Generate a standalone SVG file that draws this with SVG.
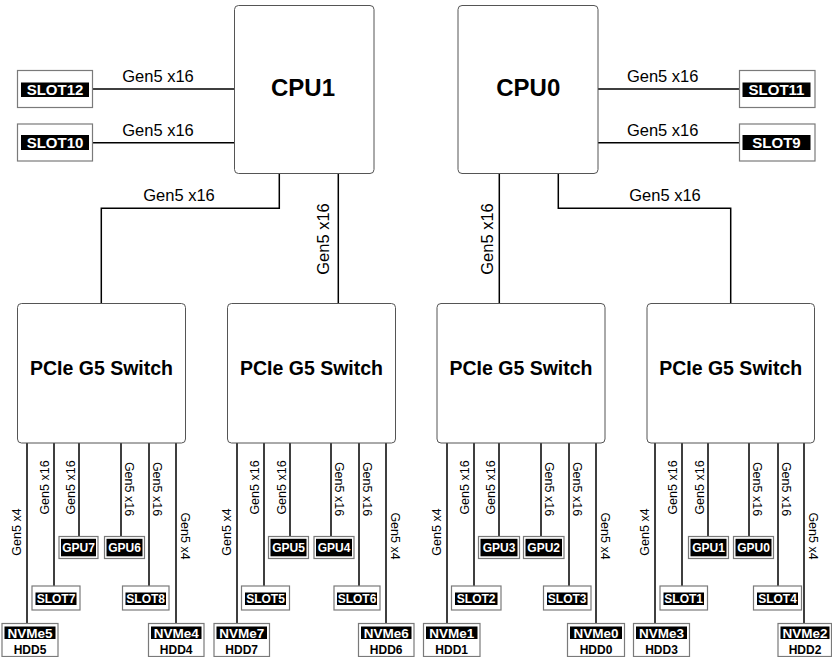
<svg xmlns="http://www.w3.org/2000/svg" width="832" height="657" viewBox="0 0 832 657">
<style>
  text { font-family: "Liberation Sans", Arial, sans-serif; fill: #000; }
  .big { fill: #fff; stroke: #555; stroke-width: 1; }
  .box { fill: #fff; stroke: #7a7a7a; stroke-width: 1.2; }
  .blk { fill: #000; }
  .wl { fill: #fff; font-weight: bold; text-anchor: middle; }
  .cpu { font-size: 24px; font-weight: bold; text-anchor: middle; }
  .sw { font-size: 19.5px; font-weight: bold; text-anchor: middle; }
  .tl { font-size: 16.5px; text-anchor: middle; }
  .vl { font-size: 12.5px; text-anchor: middle; dominant-baseline: central; }
  .s15 { font-size: 15px; }
  .s12 { font-size: 12px; }
  .nv { font-size: 13.5px; }
  .hd { font-size: 12px; font-weight: bold; text-anchor: middle; }
  .ln { fill: none; stroke: #000; stroke-width: 1.5; }
</style>

<g id="connectors">
  <path class="ln" d="M92.5 89 H234.5 M92.5 142.7 H234.5 M598 89 H739.5 M598 142.7 H739.5"/>
  <path class="ln" d="M279.3 173.5 V208.3 H101.3 V303.5 M338.3 173.5 V303.5 M499.3 173.5 V303.5 M558.3 173.5 V208.3 H730.7 V303.5"/>
  <path class="ln" d="M27 443 V623.5 M54 443 V586 M79 443 V536.5 M121 443 V536.5 M149 443 V586 M176 443 V623.5"/>
  <path class="ln" d="M237 443 V623.5 M264 443 V586 M290 443 V536.5 M331 443 V536.5 M359 443 V586 M386 443 V623.5"/>
  <path class="ln" d="M447 443 V623.5 M474 443 V586 M499 443 V536.5 M541 443 V536.5 M569 443 V586 M596 443 V623.5"/>
  <path class="ln" d="M655 443 V623.5 M682 443 V586 M708 443 V536.5 M749 443 V536.5 M778 443 V586 M804 443 V623.5"/>
  <text class="tl" x="158" y="81.5">Gen5 x16</text>
  <text class="tl" x="158" y="135.5">Gen5 x16</text>
  <text class="tl" x="662.7" y="81.5">Gen5 x16</text>
  <text class="tl" x="662.7" y="135.5">Gen5 x16</text>
  <text class="tl" x="179" y="201">Gen5 x16</text>
  <text class="tl" x="665" y="201">Gen5 x16</text>
  <text class="tl" transform="translate(323 239) rotate(-90)" dominant-baseline="central">Gen5 x16</text>
  <text class="tl" transform="translate(486.7 239) rotate(-90)" dominant-baseline="central">Gen5 x16</text>
  <!-- switch 1 -->
  <text class="vl" transform="translate(17 532) rotate(-90)">Gen5 x4</text>
  <text class="vl" transform="translate(44.5 487.5) rotate(-90)">Gen5 x16</text>
  <text class="vl" transform="translate(70.5 487.5) rotate(-90)">Gen5 x16</text>
  <text class="vl" transform="translate(128.5 489) rotate(90)">Gen5 x16</text>
  <text class="vl" transform="translate(156.5 489) rotate(90)">Gen5 x16</text>
  <text class="vl" transform="translate(184.5 536) rotate(90)">Gen5 x4</text>
  <!-- switch 2 -->
  <text class="vl" transform="translate(227 532) rotate(-90)">Gen5 x4</text>
  <text class="vl" transform="translate(254.5 487.5) rotate(-90)">Gen5 x16</text>
  <text class="vl" transform="translate(281.5 487.5) rotate(-90)">Gen5 x16</text>
  <text class="vl" transform="translate(338.5 489) rotate(90)">Gen5 x16</text>
  <text class="vl" transform="translate(366.5 489) rotate(90)">Gen5 x16</text>
  <text class="vl" transform="translate(394.5 536) rotate(90)">Gen5 x4</text>
  <!-- switch 3 -->
  <text class="vl" transform="translate(437 532) rotate(-90)">Gen5 x4</text>
  <text class="vl" transform="translate(464.5 487.5) rotate(-90)">Gen5 x16</text>
  <text class="vl" transform="translate(490.5 487.5) rotate(-90)">Gen5 x16</text>
  <text class="vl" transform="translate(548.5 489) rotate(90)">Gen5 x16</text>
  <text class="vl" transform="translate(576.5 489) rotate(90)">Gen5 x16</text>
  <text class="vl" transform="translate(604.5 536) rotate(90)">Gen5 x4</text>
  <!-- switch 4 -->
  <text class="vl" transform="translate(645 532) rotate(-90)">Gen5 x4</text>
  <text class="vl" transform="translate(672.5 487.5) rotate(-90)">Gen5 x16</text>
  <text class="vl" transform="translate(699.5 487.5) rotate(-90)">Gen5 x16</text>
  <text class="vl" transform="translate(756.5 489) rotate(90)">Gen5 x16</text>
  <text class="vl" transform="translate(785.5 489) rotate(90)">Gen5 x16</text>
  <text class="vl" transform="translate(812.5 536) rotate(90)">Gen5 x4</text>
</g>

<g id="cpu1"><rect class="big" x="234.5" y="5.5" width="139.5" height="168" rx="4"/><text class="cpu" x="303" y="96">CPU1</text></g>
<g id="cpu0"><rect class="big" x="458" y="5.5" width="140" height="168" rx="4"/><text class="cpu" x="528.3" y="96">CPU0</text></g>

<g id="slot12"><rect class="box" x="17.5" y="70.5" width="75" height="37"/><rect class="blk" x="21" y="82.5" width="68" height="14.5"/><text class="wl s15" x="55" y="95">SLOT12</text></g>
<g id="slot10"><rect class="box" x="17.5" y="124" width="75" height="37"/><rect class="blk" x="21" y="135" width="68" height="15"/><text class="wl s15" x="55" y="148">SLOT10</text></g>
<g id="slot11"><rect class="box" x="739.5" y="70.5" width="75.5" height="37"/><rect class="blk" x="742.5" y="82.5" width="68" height="14.5"/><text class="wl s15" x="776.5" y="95">SLOT11</text></g>
<g id="slot9"><rect class="box" x="739.5" y="124" width="75.5" height="37"/><rect class="blk" x="742.5" y="135" width="68" height="15"/><text class="wl s15" x="776.5" y="148">SLOT9</text></g>

<g id="switch1"><rect class="big" x="17.5" y="303.5" width="168" height="139.5" rx="4"/><text class="sw" x="101.5" y="375">PCIe G5 Switch</text></g>
<g id="switch2"><rect class="big" x="227.5" y="303.5" width="168" height="139.5" rx="4"/><text class="sw" x="311.5" y="375">PCIe G5 Switch</text></g>
<g id="switch3"><rect class="big" x="437" y="303.5" width="168" height="139.5" rx="4"/><text class="sw" x="521" y="375">PCIe G5 Switch</text></g>
<g id="switch4"><rect class="big" x="647" y="303.5" width="167.5" height="139.5" rx="4"/><text class="sw" x="730.7" y="375">PCIe G5 Switch</text></g>

<!-- switch 1 devices -->
<g id="nvme5"><rect class="box" x="2" y="623.5" width="56" height="33"/><rect class="blk" x="4.5" y="626.5" width="51" height="12.5"/><text class="wl nv" x="30" y="637.8">NVMe5</text><text class="hd" x="30" y="653.5">HDD5</text></g>
<g id="slot7"><rect class="box" x="32" y="586" width="48" height="24"/><rect class="blk" x="35.5" y="592.5" width="41" height="12.5"/><text class="wl s12" x="56" y="603.3">SLOT7</text></g>
<g id="gpu7"><rect class="box" x="59" y="536.5" width="39" height="22"/><rect class="blk" x="61" y="538.8" width="35" height="17.5"/><text class="wl s12" x="78.5" y="552">GPU7</text></g>
<g id="gpu6"><rect class="box" x="104.5" y="536.5" width="40" height="22"/><rect class="blk" x="106.5" y="538.8" width="36" height="17.5"/><text class="wl s12" x="124.5" y="552">GPU6</text></g>
<g id="slot8"><rect class="box" x="122.5" y="586" width="46.5" height="24"/><rect class="blk" x="125.5" y="592.5" width="40.5" height="12.5"/><text class="wl s12" x="145.7" y="603.3">SLOT8</text></g>
<g id="nvme4"><rect class="box" x="148.5" y="623.5" width="55.5" height="33"/><rect class="blk" x="151" y="626.5" width="50.5" height="12.5"/><text class="wl nv" x="176.2" y="637.8">NVMe4</text><text class="hd" x="176.2" y="653.5">HDD4</text></g>

<!-- switch 2 devices -->
<g id="nvme7"><rect class="box" x="214" y="623.5" width="55.5" height="33"/><rect class="blk" x="216.5" y="626.5" width="50.5" height="12.5"/><text class="wl nv" x="241.7" y="637.8">NVMe7</text><text class="hd" x="241.7" y="653.5">HDD7</text></g>
<g id="slot5"><rect class="box" x="241.5" y="586" width="48" height="24"/><rect class="blk" x="245" y="592.5" width="41" height="12.5"/><text class="wl s12" x="265.5" y="603.3">SLOT5</text></g>
<g id="gpu5"><rect class="box" x="268.5" y="536.5" width="40" height="22"/><rect class="blk" x="270.5" y="538.8" width="36" height="17.5"/><text class="wl s12" x="288.5" y="552">GPU5</text></g>
<g id="gpu4"><rect class="box" x="314" y="536.5" width="40" height="22"/><rect class="blk" x="316" y="538.8" width="36" height="17.5"/><text class="wl s12" x="334" y="552">GPU4</text></g>
<g id="slot6"><rect class="box" x="334" y="586" width="46" height="24"/><rect class="blk" x="337" y="592.5" width="40" height="12.5"/><text class="wl s12" x="357" y="603.3">SLOT6</text></g>
<g id="nvme6"><rect class="box" x="358.5" y="623.5" width="55.5" height="33"/><rect class="blk" x="361" y="626.5" width="50.5" height="12.5"/><text class="wl nv" x="386.2" y="637.8">NVMe6</text><text class="hd" x="386.2" y="653.5">HDD6</text></g>

<!-- switch 3 devices -->
<g id="nvme1"><rect class="box" x="423.5" y="623.5" width="56.5" height="33"/><rect class="blk" x="426" y="626.5" width="51.5" height="12.5"/><text class="wl nv" x="451.7" y="637.8">NVMe1</text><text class="hd" x="451.7" y="653.5">HDD1</text></g>
<g id="slot2"><rect class="box" x="451.5" y="586" width="49.5" height="24"/><rect class="blk" x="455" y="592.5" width="42.5" height="12.5"/><text class="wl s12" x="476.2" y="603.3">SLOT2</text></g>
<g id="gpu3"><rect class="box" x="478.5" y="536.5" width="41" height="22"/><rect class="blk" x="480.5" y="538.8" width="37" height="17.5"/><text class="wl s12" x="499" y="552">GPU3</text></g>
<g id="gpu2"><rect class="box" x="523.5" y="536.5" width="40.5" height="22"/><rect class="blk" x="525.5" y="538.8" width="36.5" height="17.5"/><text class="wl s12" x="543.7" y="552">GPU2</text></g>
<g id="slot3"><rect class="box" x="543.5" y="586" width="47.5" height="24"/><rect class="blk" x="547" y="592.5" width="40.5" height="12.5"/><text class="wl s12" x="567.2" y="603.3">SLOT3</text></g>
<g id="nvme0"><rect class="box" x="567.5" y="623.5" width="57" height="33"/><rect class="blk" x="570" y="626.5" width="52" height="12.5"/><text class="wl nv" x="596" y="637.8">NVMe0</text><text class="hd" x="596" y="653.5">HDD0</text></g>

<!-- switch 4 devices -->
<g id="nvme3"><rect class="box" x="633.5" y="623.5" width="56" height="33"/><rect class="blk" x="636" y="626.5" width="51" height="12.5"/><text class="wl nv" x="661.5" y="637.8">NVMe3</text><text class="hd" x="661.5" y="653.5">HDD3</text></g>
<g id="slot1"><rect class="box" x="660" y="586" width="47.5" height="24"/><rect class="blk" x="663.5" y="592.5" width="40.5" height="12.5"/><text class="wl s12" x="683.7" y="603.3">SLOT1</text></g>
<g id="gpu1"><rect class="box" x="688.5" y="536.5" width="40" height="22"/><rect class="blk" x="690.5" y="538.8" width="36" height="17.5"/><text class="wl s12" x="708.5" y="552">GPU1</text></g>
<g id="gpu0"><rect class="box" x="733.5" y="536.5" width="40" height="22"/><rect class="blk" x="735.5" y="538.8" width="36" height="17.5"/><text class="wl s12" x="753.5" y="552">GPU0</text></g>
<g id="slot4"><rect class="box" x="753.5" y="586" width="48" height="24"/><rect class="blk" x="757" y="592.5" width="41" height="12.5"/><text class="wl s12" x="777.5" y="603.3">SLOT4</text></g>
<g id="nvme2"><rect class="box" x="778" y="623.5" width="53.5" height="33"/><rect class="blk" x="780.5" y="626.5" width="49" height="12.5"/><text class="wl nv" x="805" y="637.8">NVMe2</text><text class="hd" x="805" y="653.5">HDD2</text></g>
</svg>
